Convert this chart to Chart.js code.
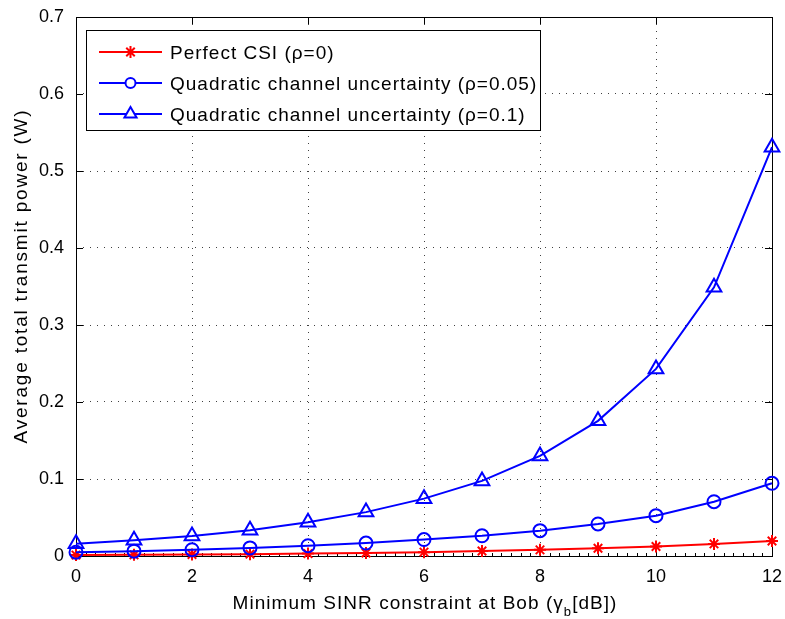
<!DOCTYPE html>
<html><head><meta charset="utf-8">
<script src="https://cdn.jsdelivr.net/npm/chart.js@4/dist/chart.umd.min.js"></script>
<style>html,body{margin:0;padding:0;background:#fff;}#wrap{width:785px;height:619px;position:relative;}</style>
</head><body><div id="wrap"><canvas id="c" width="785" height="619"></canvas></div>
<script>
// ---- data ----
const sinrDb = [0,1,2,3,4,5,6,7,8,9,10,11,12];
const perfectCsi = [0.0012,0.0015,0.0019,0.0024,0.0031,0.0039,0.0050,0.0064,0.0080,0.0100,0.0124,0.0157,0.0195];
const quadRho005 = [0.0049,0.0063,0.0082,0.0105,0.0133,0.0168,0.0214,0.0263,0.0329,0.0416,0.0524,0.0705,0.0944];
const quadRho01  = [0.0160,0.0205,0.0260,0.0335,0.0438,0.0570,0.0745,0.0975,0.1300,0.1755,0.2430,0.3490,0.5310];
const seriesLabels = ['Perfect CSI (\u03c1=0)','Quadratic channel uncertainty (\u03c1=0.05)','Quadratic channel uncertainty (\u03c1=0.1)'];
const xTickValues = [0,2,4,6,8,10,12];
const yTickValues = [0,0.1,0.2,0.3,0.4,0.5,0.6,0.7];
const xTitleMain = 'Minimum SINR constraint at Bob (\u03b3';
const xTitleSub = 'b';
const xTitleEnd = '[dB])';
const yTitle = 'Average total transmit power (W)';

const FONT = "'Liberation Sans', Arial, Helvetica, sans-serif";
const toPts = arr => arr.map((v,i)=>({x:sinrDb[i], y:v}));

const frame = {
  id:'frame',
  beforeDatasetsDraw(chart){
    const {ctx, chartArea:a, scales:{x,y}} = chart;
    ctx.save();
    ctx.strokeStyle='#000'; ctx.lineWidth=1;
    ctx.beginPath();
    for(let v=0; v<=12.0001; v+=1/6){
      const px=Math.round(x.getPixelForValue(v))+0.5;
      ctx.moveTo(px,a.bottom); ctx.lineTo(px,a.bottom-3);
    }
    xTickValues.forEach(v=>{
      const px=Math.round(x.getPixelForValue(v))+0.5;
      ctx.moveTo(px,a.bottom); ctx.lineTo(px,a.bottom-7);
      ctx.moveTo(px,a.top); ctx.lineTo(px,a.top+7);
    });
    yTickValues.forEach(v=>{
      const py=Math.round(y.getPixelForValue(v))+0.5;
      ctx.moveTo(a.left,py); ctx.lineTo(a.left+7,py);
      ctx.moveTo(a.right,py); ctx.lineTo(a.right-7,py);
    });
    ctx.stroke();
    ctx.strokeRect(Math.round(a.left)+0.5, Math.round(a.top)+0.5, Math.round(a.right-a.left), Math.round(a.bottom-a.top));
    ctx.restore();
  },
  afterDraw(chart){
    const ctx=chart.ctx;
    ctx.save();
    ctx.fillStyle='#000';
    ctx.textBaseline='alphabetic'; ctx.textAlign='left';
    // x title
    ctx.font='19px '+FONT;
    ctx.letterSpacing='1.05px';
    const w1=ctx.measureText(xTitleMain).width;
    const w3=ctx.measureText(xTitleEnd).width;
    ctx.font='13px '+FONT;
    const w2=ctx.measureText(xTitleSub).width;
    const total=w1+w2+w3;
    let sx=425-total/2, by=609;
    ctx.font='19px '+FONT; ctx.fillText(xTitleMain,sx,by);
    ctx.font='13px '+FONT; ctx.fillText(xTitleSub,sx+w1,by+7);
    ctx.font='19px '+FONT; ctx.fillText(xTitleEnd,sx+w1+w2,by);
    // y title
    ctx.save();
    ctx.translate(27,276); ctx.rotate(-Math.PI/2);
    ctx.font='19px '+FONT; ctx.letterSpacing='1.8px';
    const wy=ctx.measureText(yTitle).width;
    ctx.fillText(yTitle,-wy/2,0);
    ctx.restore();
    // legend
    const L={x:86.5,y:30.5,w:454,h:100};
    ctx.fillStyle='#fff'; ctx.fillRect(L.x,L.y,L.w,L.h);
    ctx.strokeStyle='#000'; ctx.lineWidth=1; ctx.strokeRect(L.x,L.y,L.w,L.h);
    ctx.font='19px '+FONT; ctx.letterSpacing='1.0px';
    chart.data.datasets.forEach((ds,i)=>{
      const cy=52+i*31;
      ctx.strokeStyle=ds.borderColor; ctx.lineWidth=2;
      ctx.beginPath(); ctx.moveTo(99,cy); ctx.lineTo(162,cy); ctx.stroke();
      ctx.fillStyle='#fff';
      Chart.helpers.drawPoint(ctx,{pointStyle:ds.pointStyle,radius:ds.legendRadius,borderWidth:2,rotation:0},130.5,cy);
      ctx.fillStyle='#000';
      ctx.fillText(ds.label,170,cy+6.5);
    });
    ctx.restore();
  }
};

function zeroPad(s){ s.paddingLeft=0; s.paddingRight=0; s.paddingTop=0; s.paddingBottom=0; }

new Chart(document.getElementById('c'),{
  type:'line',
  data:{datasets:[
    {label:seriesLabels[0],data:toPts(perfectCsi),borderColor:'#ff0000',backgroundColor:'#ff0000',pointStyle:'star',pointRadius:6,legendRadius:6,pointBorderWidth:2,borderWidth:2,pointBorderColor:'#ff0000',pointBackgroundColor:'rgba(0,0,0,0)',order:2,clip:false},
    {label:seriesLabels[1],data:toPts(quadRho005),borderColor:'#0000ff',backgroundColor:'#0000ff',pointStyle:'circle',pointRadius:6.5,legendRadius:5,pointBorderWidth:2,borderWidth:2,pointBorderColor:'#0000ff',pointBackgroundColor:'rgba(0,0,0,0)',order:1,clip:false},
    {label:seriesLabels[2],data:toPts(quadRho01),borderColor:'#0000ff',backgroundColor:'#0000ff',pointStyle:'triangle',pointRadius:8.5,legendRadius:7,pointBorderWidth:2,borderWidth:2,pointBorderColor:'#0000ff',pointBackgroundColor:'rgba(0,0,0,0)',order:0,clip:false}
  ]},
  options:{
    responsive:false, animation:false,
    layout:{padding:{left:0,right:13,top:17,bottom:0},autoPadding:false},
    plugins:{legend:{display:false},tooltip:{enabled:false}},
    elements:{line:{tension:0}},
    scales:{
      x:{type:'linear',min:0,max:12,
        afterBuildTicks(s){s.ticks=xTickValues.map(v=>({value:v}));},
        afterFit(s){s.height=63; zeroPad(s);},
        ticks:{font:{family:FONT,size:18},color:'#000',padding:10,maxRotation:0},
        grid:{color:'rgba(0,0,0,0.75)',lineWidth:1,drawTicks:false},
        border:{display:false,dash:[1,6]}},
      y:{type:'linear',min:0,max:0.7,
        afterBuildTicks(s){s.ticks=yTickValues.map(v=>({value:v}));},
        afterFit(s){s.width=76; zeroPad(s);},
        ticks:{font:{family:FONT,size:18},color:'#000',padding:12,callback:v=>String(+v.toFixed(1))},
        grid:{color:'rgba(0,0,0,0.75)',lineWidth:1,drawTicks:false},
        border:{display:false,dash:[1,6]}}
    }
  },
  plugins:[frame]
});
</script></body></html>
